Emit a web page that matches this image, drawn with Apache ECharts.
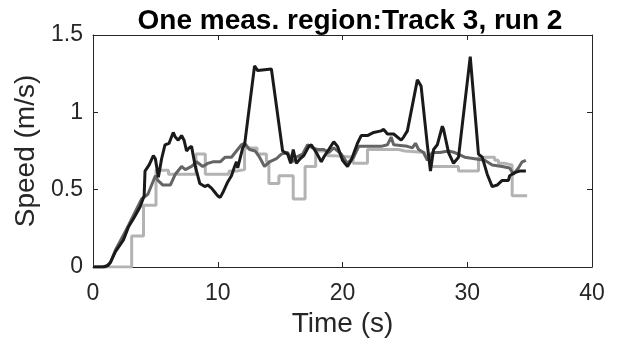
<!DOCTYPE html>
<html>
<head>
<meta charset="utf-8">
<script src="https://cdn.jsdelivr.net/npm/echarts@6/dist/echarts.min.js"></script>
<style>
  html, body { margin: 0; padding: 0; background: #fff; }
  #chart { width: 619px; height: 352px; }
</style>
</head>
<body>
<div id="chart"></div>
<script>
// Speed traces for one measurement region (Track 3, run 2)
const blackTime = [0,0.8,1.2,1.4,1.8,2.44,2.85,3.3,3.78,4.1,4.17,4.5,4.84,5.0,5.24,5.5,5.77,6.1,6.43,6.6,6.83,7.1,7.3,7.5,7.7,7.9,8.2,8.56,8.96,9.2,9.5,9.8,10.0,10.2,10.4,10.8,11.1,11.35,11.5,11.6,12.0,12.15,12.95,13.2,14.3,15.2,15.6,15.85,16.05,16.3,16.6,16.9,17.3,17.5,17.9,18.3,18.5,18.9,19.3,19.6,20.0,20.4,20.7,21.2,21.5,22.0,22.5,23.1,23.3,23.6,24.1,24.7,24.9,25.2,26.0,26.3,26.8,27.05,27.3,27.6,28.0,28.1,28.5,28.9,29.3,30.24,30.37,30.9,31.2,31.6,32.0,32.4,32.8,33.3,33.4,33.8,34.2,34.7];
const blackSpeed = [0,0,0.01,0.03,0.1,0.175,0.26,0.32,0.39,0.46,0.62,0.66,0.72,0.7,0.58,0.7,0.79,0.8,0.87,0.84,0.82,0.85,0.82,0.75,0.77,0.78,0.65,0.54,0.52,0.53,0.51,0.48,0.46,0.45,0.48,0.55,0.59,0.65,0.68,0.64,0.77,0.79,1.30,1.27,1.28,0.75,0.73,0.67,0.76,0.67,0.70,0.72,0.78,0.79,0.74,0.68,0.71,0.76,0.81,0.78,0.69,0.65,0.69,0.80,0.85,0.85,0.87,0.88,0.89,0.86,0.86,0.82,0.84,0.88,1.21,1.17,0.79,0.62,0.76,0.79,0.91,0.89,0.74,0.67,0.71,1.36,1.36,0.73,0.71,0.60,0.52,0.53,0.56,0.56,0.59,0.61,0.62,0.62];

const darkTime = [0,1.0,1.4,1.8,2.4,2.85,3.4,3.9,4.4,5.0,5.2,5.6,6.2,6.6,7.1,7.4,7.9,8.3,8.8,9.2,9.6,10.2,10.6,11.1,11.5,11.9,12.15,12.55,13.0,13.35,13.75,14.15,14.7,15.1,15.6,16.0,16.3,16.8,17.2,17.6,18.0,18.5,18.9,19.3,19.9,20.4,20.9,21.3,22.0,23.1,23.6,23.9,24.1,25.2,25.6,25.85,26.1,26.5,26.8,27.2,27.8,28.5,29.0,29.8,30.6,31.4,32.0,32.8,33.4,33.7,34.1,34.4,34.7];
const darkSpeed = [0,0,0.03,0.11,0.2,0.27,0.36,0.44,0.47,0.59,0.56,0.53,0.53,0.60,0.65,0.63,0.65,0.68,0.65,0.67,0.68,0.68,0.71,0.71,0.75,0.79,0.80,0.76,0.75,0.71,0.65,0.68,0.70,0.73,0.74,0.68,0.71,0.73,0.79,0.77,0.76,0.76,0.74,0.77,0.73,0.67,0.71,0.78,0.78,0.78,0.79,0.84,0.79,0.78,0.77,0.80,0.76,0.74,0.69,0.74,0.74,0.75,0.74,0.71,0.70,0.69,0.66,0.65,0.64,0.60,0.64,0.68,0.69];

// Stepped trace: each value holds until the next time stamp
const lightTime = [0,3.1,4.05,5.05,6.05,8.25,9.0,10.9,11.5,12.15,13.15,13.9,14.1,14.9,16.05,17.0,17.85,18.8,19.4,20.85,22.0,24.5,25.0,26.6,27.05,29.3,30.9,32.2,32.5,33.0,33.6,34.8];
const lightSpeed = [0,0.20,0.40,0.625,0.60,0.73,0.60,0.62,0.63,0.77,0.73,0.68,0.54,0.59,0.44,0.65,0.75,0.72,0.71,0.67,0.76,0.75,0.74,0.72,0.65,0.62,0.71,0.69,0.67,0.66,0.46,0.46];

const xTicks = { min: 0, max: 40, interval: 10 };
const yTicks = { min: 0, max: 1.5, interval: 0.5 };

const pairs = (t, v) => t.map((x, i) => [x, v[i]]);

const FONT = '"Liberation Sans", Arial, Helvetica, sans-serif';
const AX = '#262626';

const chart = echarts.init(document.getElementById('chart'), null, { renderer: 'canvas' });

const axisLine = { show: true, onZero: false, lineStyle: { color: AX, width: 1 } };
const axisTick = { show: true, inside: true, length: 5, lineStyle: { color: AX, width: 1 } };

chart.setOption({
  animation: false,
  backgroundColor: '#ffffff',
  title: {
    text: 'One meas. region:Track 3, run 2',
    left: 345,
    top: 2,
    textAlign: 'center',
    textStyle: { fontFamily: FONT, fontWeight: 'bold', fontSize: 28, color: '#000' }
  },
  grid: { left: 93, right: 27, top: 35, bottom: 85 },
  xAxis: [
    {
      type: 'value', position: 'bottom',
      min: xTicks.min, max: xTicks.max, interval: xTicks.interval,
      name: 'Time (s)', nameLocation: 'middle', nameGap: 40,
      nameTextStyle: { fontFamily: FONT, fontSize: 28, color: AX },
      axisLine, axisTick,
      axisLabel: { fontFamily: FONT, fontSize: 23, color: AX, margin: 15 },
      splitLine: { show: false }
    },
    {
      type: 'value', position: 'top',
      min: xTicks.min, max: xTicks.max, interval: xTicks.interval,
      axisLine, axisTick, axisLabel: { show: false }, splitLine: { show: false }
    }
  ],
  yAxis: [
    {
      type: 'value', position: 'left',
      min: yTicks.min, max: yTicks.max, interval: yTicks.interval,
      name: 'Speed (m/s)', nameLocation: 'middle', nameGap: 53, nameRotate: 90,
      nameTextStyle: { fontFamily: FONT, fontSize: 28, color: AX },
      axisLine, axisTick,
      axisLabel: { fontFamily: FONT, fontSize: 23, color: AX, margin: 10 },
      splitLine: { show: false }
    },
    {
      type: 'value', position: 'right',
      min: yTicks.min, max: yTicks.max, interval: yTicks.interval,
      axisLine, axisTick, axisLabel: { show: false }, splitLine: { show: false }
    }
  ],
  series: [
    {
      name: 'light', type: 'line', step: 'end', showSymbol: false,
      data: pairs(lightTime, lightSpeed),
      lineStyle: { color: '#b3b3b3', width: 3 }
    },
    {
      name: 'dark', type: 'line', showSymbol: false,
      data: pairs(darkTime, darkSpeed),
      lineStyle: { color: '#646464', width: 3 }
    },
    {
      name: 'black', type: 'line', showSymbol: false,
      data: pairs(blackTime, blackSpeed),
      lineStyle: { color: '#1a1a1a', width: 3 }
    }
  ]
});
</script>
</body>
</html>
